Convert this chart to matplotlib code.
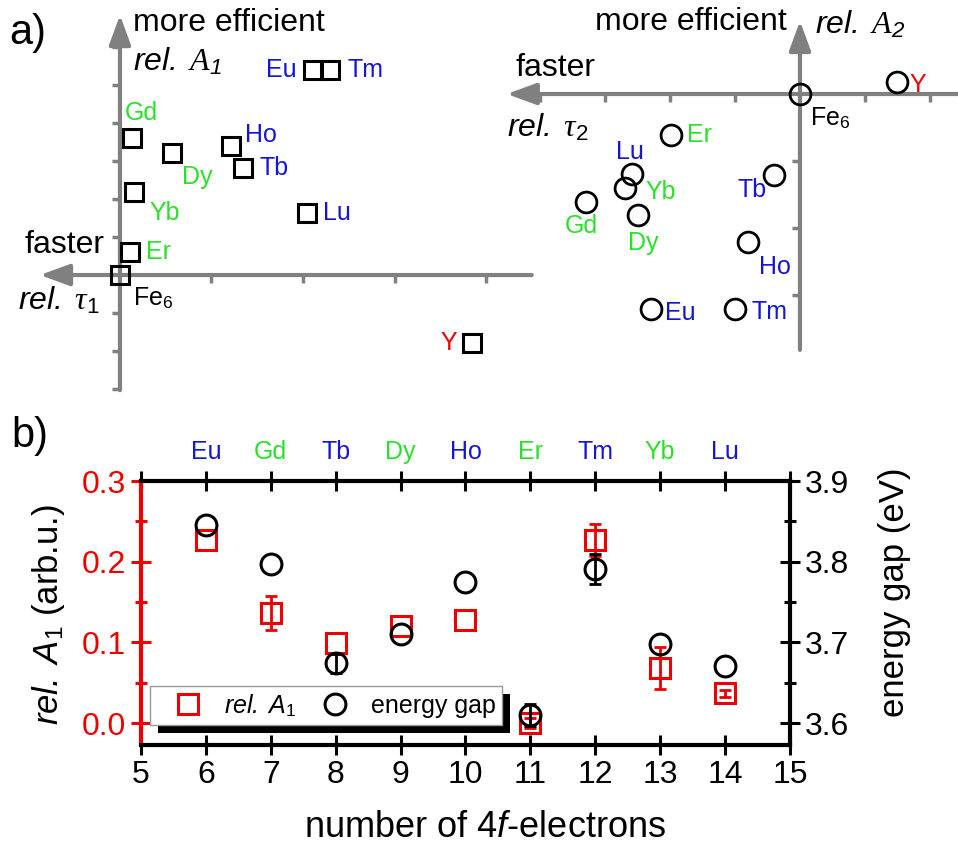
import matplotlib
matplotlib.use("Agg")
import matplotlib.pyplot as plt
import matplotlib.patheffects as pe
from matplotlib.lines import Line2D

plt.rcParams["font.family"] = ["Liberation Sans", "DejaVu Sans"]
plt.rcParams["mathtext.fontset"] = "custom"
plt.rcParams["mathtext.rm"] = "Liberation Sans"
plt.rcParams["mathtext.it"] = "Liberation Serif:italic"
plt.rcParams["mathtext.sf"] = "Liberation Sans:italic"

BLUE = "#1515d5"
GREEN = "#2ae02a"
RED = "#ee0000"
GRAY = "#808080"

# panel a, left: rel. tau_1 vs rel. A_1 (in tick units)
sq_names = ["Fe6", "Er", "Yb", "Gd", "Dy", "Ho", "Tb", "Lu", "Eu", "Tm", "Y"]
sq_tau1 = [0.0, 0.11, 0.15, 0.13, 0.57, 1.21, 1.34, 2.04, 2.11, 2.30, 3.85]
sq_A1 = [0.0, 0.61, 2.18, 3.60, 3.21, 3.39, 2.82, 1.63, 5.39, 5.39, -1.79]

# panel a, right: rel. tau_2 vs rel. A_2 (in tick units)
ci_names = ["Fe6", "Y", "Er", "Lu", "Yb", "Gd", "Dy", "Tb", "Ho", "Eu", "Tm"]
ci_tau2 = [0.0, 1.49, -1.98, -2.58, -2.69, -3.29, -2.49, -0.40, -0.80, -2.29, -1.00]
ci_A2 = [0.0, 0.18, -0.61, -1.19, -1.40, -1.61, -1.81, -1.21, -2.21, -3.21, -3.21]

# panel b
n4f = [6, 7, 8, 9, 10, 11, 12, 13, 14]
elements = ["Eu", "Gd", "Tb", "Dy", "Ho", "Er", "Tm", "Yb", "Lu"]
relA1 = [0.227, 0.137, 0.099, 0.12, 0.128, 0.0, 0.227, 0.068, 0.037]
relA1_err = [0, 0.021, 0, 0, 0, 0.006, 0.02, 0.026, 0.004]
gap = [3.846, 3.797, 3.674, 3.711, 3.775, 3.61, 3.791, 3.698, 3.671]
gap_err = [0, 0, 0.012, 0, 0, 0.014, 0.018, 0, 0]

el_color = {"Eu": BLUE, "Tb": BLUE, "Ho": BLUE, "Tm": BLUE, "Lu": BLUE,
            "Gd": GREEN, "Dy": GREEN, "Er": GREEN, "Yb": GREEN,
            "Y": RED, "Fe6": "k"}

# label offsets in points: (dx, dy, ha, va)
sq_lab = {"Eu": (-11.5, 0, "right", "center"), "Tm": (12, 0, "left", "center"),
          "Gd": (7, 18, "center", "center"), "Dy": (18, -17, "center", "center"),
          "Ho": (10, 8, "left", "center"), "Tb": (12, 0, "left", "center"),
          "Yb": (22, -15, "center", "center"), "Lu": (11.5, 0, "left", "center"),
          "Er": (11.5, 0, "left", "center"), "Y": (-11, 0, "right", "center"),
          "Fe6": (9.4, -21.6, "left", "baseline")}
ci_lab = {"Fe6": (7.2, -22.3, "left", "baseline"), "Y": (9.4, -2, "left", "center"),
          "Er": (11.5, 0, "left", "center"), "Lu": (-2, 16, "center", "center"),
          "Yb": (14.4, -3, "left", "center"), "Gd": (-3.6, -17.3, "center", "center"),
          "Dy": (3.6, -20, "center", "center"), "Tb": (-5, -10.8, "right", "center"),
          "Ho": (19.4, -18, "center", "center"), "Eu": (10, -3, "left", "center"),
          "Tm": (12.2, -2, "left", "center")}

FS_BIG = 23
FS_EL = 18
ARROW = dict(arrowstyle="-|>,head_length=0.6,head_width=0.22", color=GRAY,
             lw=3, shrinkA=0, shrinkB=0, mutation_scale=30)


def label_text(name):
    return r"Fe$_{\mathrm{6}}$" if name == "Fe6" else name


def with_err(xs, ys, errs):
    keep = [i for i, e in enumerate(errs) if e > 0]
    return [xs[i] for i in keep], [ys[i] for i in keep], [errs[i] for i in keep]


fig = plt.figure(figsize=(9.58, 8.5), dpi=100)

# ---- panel a, left
axL = fig.add_axes([0, 0.5294, 0.5637, 0.4706])
axL.set_xlim(-1.311, 4.590)
axL.set_ylim(-3.289, 7.237)
axL.axis("off")
axL.annotate("", xy=(-0.874, 0), xytext=(4.50, 0), arrowprops=ARROW)
axL.annotate("", xy=(0, 6.84), xytext=(0, -3.03), arrowprops=ARROW)
axL.plot(range(1, 5), [0] * 4, ls="none", marker=3, ms=6, mew=2.5, color=GRAY)
yt = [-3, -2, -1, 1, 2, 3, 4, 5, 6]
axL.plot([0] * len(yt), yt, ls="none", marker=0, ms=6, mew=2.5, color=GRAY)
axL.plot(sq_tau1, sq_A1, ls="none", marker="s", ms=12.5, mfc="none",
         mec="k", mew=2.2, zorder=5)
for nm, x, y in zip(sq_names, sq_tau1, sq_A1):
    dx, dy, ha, va = sq_lab[nm]
    axL.annotate(label_text(nm), (x, y), xytext=(dx, dy), textcoords="offset points",
                 ha=ha, va=va, color=el_color[nm], fontsize=FS_EL)
axL.text(0.142, 6.63, "more efficient", fontsize=FS_BIG, ha="left", va="center")
axL.text(0.142, 5.37, r"$\mathsf{rel.}\ A_{\mathsf{1}}$", fontsize=FS_BIG,
         ha="left", va="baseline")
axL.text(-0.164, 0.79, "faster", fontsize=FS_BIG, ha="right", va="center")
axL.text(-0.22, -0.92, r"$\mathsf{rel.}\ \tau_{\mathrm{1}}$", fontsize=FS_BIG,
         ha="right", va="baseline")

# ---- panel a, right
axR = fig.add_axes([0.501, 0.5765, 0.499, 0.4235])
axR.set_xlim(-4.923, 2.431)
axR.set_ylim(-3.970, 1.403)
axR.axis("off")
axR.annotate("", xy=(-4.51, 0), xytext=(2.431, 0), arrowprops=ARROW)
axR.annotate("", xy=(0, 1.09), xytext=(0, -3.82), arrowprops=ARROW)
xt = [-4, -3, -2, -1, 1, 2]
axR.plot(xt, [0] * len(xt), ls="none", marker=3, ms=6, mew=2.5, color=GRAY)
axR.plot([0] * 3, [-1, -2, -3], ls="none", marker=0, ms=6, mew=2.5, color=GRAY)
axR.plot(ci_tau2, ci_A2, ls="none", marker="o", ms=15, mfc="none",
         mec="k", mew=2.0, zorder=5)
for nm, x, y in zip(ci_names, ci_tau2, ci_A2):
    dx, dy, ha, va = ci_lab[nm]
    axR.annotate(label_text(nm), (x, y), xytext=(dx, dy), textcoords="offset points",
                 ha=ha, va=va, color=el_color[nm], fontsize=FS_EL)
axR.text(-0.2, 1.07, "more efficient", fontsize=FS_BIG, ha="right", va="center")
axR.text(0.23, 0.91, r"$\mathsf{rel.}\ A_{\mathsf{2}}$", fontsize=FS_BIG,
         ha="left", va="baseline")
axR.text(-4.38, 0.39, "faster", fontsize=FS_BIG, ha="left", va="center")
axR.text(-4.51, -0.64, r"$\mathsf{rel.}\ \tau_{\mathrm{2}}$", fontsize=FS_BIG,
         ha="left", va="baseline")

fig.text(0.010, 1 - 33 / 850, "a)", fontsize=30, ha="left", va="center")
fig.text(0.012, 1 - 436 / 850, "b)", fontsize=30, ha="left", va="center")

# ---- panel b
ax = fig.add_axes([0.1472, 0.1235, 0.6774, 0.3106])
ax.plot(n4f, relA1, ls="none", marker="s", ms=14, mfc="none", mec=RED, mew=2.2)
ax.errorbar(*with_err(n4f, relA1, relA1_err), fmt="none", ecolor=RED,
            elinewidth=2, capsize=4.5, capthick=2)
ax.set_xlim(5, 15)
ax.set_ylim(-0.027, 0.3)
ax.set_xticks(range(5, 16))
ax.set_yticks([0, 0.1, 0.2, 0.3])
ax.set_yticks([0.05, 0.15, 0.25], minor=True)
ax.yaxis.set_major_formatter("{x:.1f}")
ax.tick_params(which="major", direction="inout", length=14, width=2.2,
               labelsize=23, top=True, pad=4)
ax.tick_params(axis="y", which="both", colors=RED)
ax.tick_params(axis="y", which="minor", direction="inout", length=9, width=2.2)
for s in ["top", "bottom", "left"]:
    ax.spines[s].set_linewidth(3)
ax.spines["left"].set_color(RED)
ax.spines["right"].set_visible(False)
ax.set_ylabel(r"$\mathsf{rel.\ A}_{\mathrm{1}}$ (arb.u.)", fontsize=25)
ax.yaxis.set_label_coords(-0.114, 0.496)
ax.set_xlabel(r"number of 4$\mathsf{f}$-electrons", fontsize=26)
ax.xaxis.set_label_coords(0.530, -0.246)

sec = ax.secondary_xaxis("top")
sec.set_xticks(n4f, labels=elements)
sec.tick_params(length=0, pad=12, labelsize=18)
sec.spines["top"].set_visible(False)
for lbl, el in zip(sec.get_xticklabels(), elements):
    lbl.set_color(el_color[el])

ax2 = ax.twinx()
ax2.plot(n4f, gap, ls="none", marker="o", ms=15, mfc="none", mec="k", mew=2.2)
ax2.errorbar(*with_err(n4f, gap, gap_err), fmt="none", ecolor="k",
             elinewidth=2, capsize=4.5, capthick=2)
ax2.set_ylim(3.573, 3.9)
ax2.set_yticks([3.6, 3.7, 3.8, 3.9])
ax2.set_yticks([3.65, 3.75, 3.85], minor=True)
ax2.tick_params(which="major", direction="inout", length=14, width=2.2,
                labelsize=23, pad=4)
ax2.tick_params(which="minor", direction="inout", length=9, width=2.2)
for s in ["top", "bottom", "left"]:
    ax2.spines[s].set_visible(False)
ax2.spines["right"].set_linewidth(3)
ax2.set_ylabel("energy gap (eV)", fontsize=25)
ax2.yaxis.set_label_coords(1.136, 0.58)

handles = [Line2D([], [], ls="none", marker="s", ms=14, mfc="none", mec=RED, mew=2.2),
           Line2D([], [], ls="none", marker="o", ms=15, mfc="none", mec="k", mew=2.2)]
leg = ax2.legend(handles, [r"$\mathsf{rel.\ A}_{\mathrm{1}}$", "energy gap"], ncol=2,
                 loc="lower left", bbox_to_anchor=(0.0139, 0.0758), borderaxespad=0,
                 fancybox=False, framealpha=1, edgecolor="#999999", fontsize=18,
                 borderpad=0.25, handlelength=2.5, handletextpad=0.2,
                 columnspacing=0.3)
leg.get_frame().set_linewidth(1)
leg.get_frame().set_path_effects([pe.SimplePatchShadow(offset=(6, -6), shadow_rgbFace="k",
                                                       alpha=1), pe.Normal()])

fig.savefig("out.png", dpi=100)
